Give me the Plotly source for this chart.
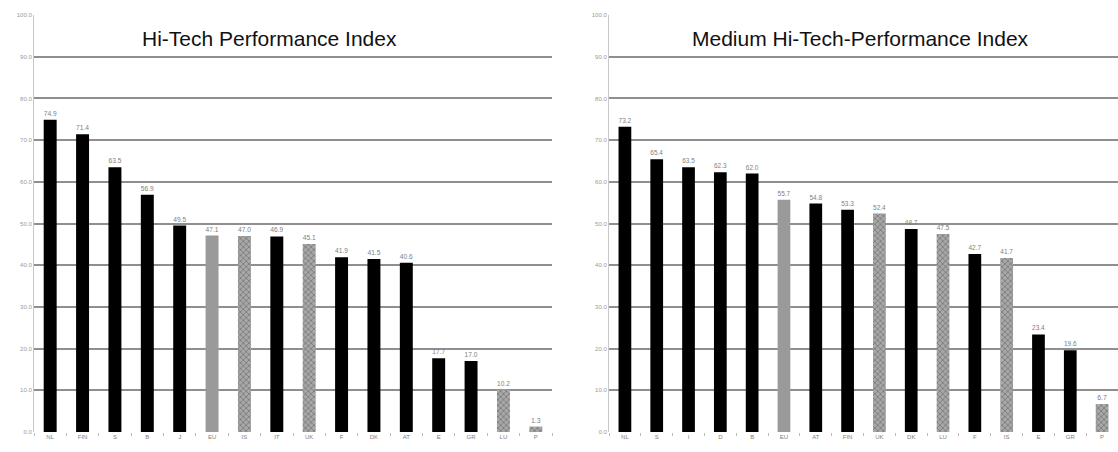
import plotly.graph_objects as go

# Hi-Tech Performance Index
hi_countries = ["NL", "FIN", "S", "B", "J", "EU", "IS", "IT", "UK", "F", "DK", "AT", "E", "GR", "LU", "P"]
hi_values = [74.9, 71.4, 63.5, 56.9, 49.5, 47.1, 47.0, 46.9, 45.1, 41.9, 41.5, 40.6, 17.7, 17.0, 10.2, 1.3]
hi_kind = ["c", "c", "c", "c", "c", "eu", "x", "c", "x", "c", "c", "c", "c", "c", "x", "x"]

# Medium Hi-Tech Performance Index
med_countries = ["NL", "S", "I", "D", "B", "EU", "AT", "FIN", "UK", "DK", "LU", "F", "IS", "E", "GR", "P"]
med_values = [73.2, 65.4, 63.5, 62.3, 62.0, 55.7, 54.8, 53.3, 52.4, 48.7, 47.5, 42.7, 41.7, 23.4, 19.6, 6.7]
med_kind = ["c", "c", "c", "c", "c", "eu", "c", "c", "x", "c", "x", "c", "x", "c", "c", "x"]

y_ticks = [0, 10, 20, 30, 40, 50, 60, 70, 80, 90, 100]

W, H = 1118, 452


def bar_style(kinds):
    colors, shapes = [], []
    for k in kinds:
        if k == "c":
            colors.append("#000000")
            shapes.append("")
        elif k == "eu":
            colors.append("#9a9a9a")
            shapes.append("")
        else:
            colors.append("#a8a8a8")
            shapes.append("x")
    return colors, shapes


fig = go.Figure()

for cats, vals, kinds, xa, ya in [
    (hi_countries, hi_values, hi_kind, "x", "y"),
    (med_countries, med_values, med_kind, "x2", "y2"),
]:
    colors, shapes = bar_style(kinds)
    fig.add_trace(go.Bar(
        x=cats, y=vals, xaxis=xa, yaxis=ya,
        width=0.4,
        marker=dict(
            color=colors,
            line=dict(width=0),
            pattern=dict(shape=shapes, fgcolor="#3a3a3a", size=4,
                         solidity=0.35, fillmode="overlay"),
        ),
        text=[f"{v:.1f}" for v in vals],
        textposition="outside",
        cliponaxis=False,
        textfont=dict(family="Arial", size=7, color="#808080"),
        showlegend=False,
    ))

y_dom = [(H - 432) / H, (H - 15) / H]
xaxis_common = dict(
    showgrid=False, showline=False, zeroline=False,
    ticks="outside", tickson="boundaries", ticklen=3, tickcolor="#bbbbbb",
    tickfont=dict(family="Arial", size=6, color="#808080"),
    automargin=False,
)
yaxis_common = dict(
    range=[0, 100], tickvals=y_ticks, tickformat=".1f",
    showgrid=True, gridcolor="#8f8f8f", gridwidth=1.6,
    showline=True, linecolor="#c8c8c8", linewidth=1,
    zeroline=False, ticks="",
    tickfont=dict(family="Arial", size=6, color="#999999"),
    automargin=False, domain=y_dom,
)

fig.update_layout(
    width=W, height=H,
    margin=dict(l=0, r=0, t=0, b=0),
    paper_bgcolor="white", plot_bgcolor="white",
    bargap=0.6,
    xaxis=dict(domain=[34 / W, 552 / W], anchor="y", **xaxis_common),
    yaxis=dict(anchor="x", **yaxis_common),
    xaxis2=dict(domain=[609 / W, 1.0], anchor="y2", **xaxis_common),
    yaxis2=dict(anchor="x2", **yaxis_common),
    annotations=[
        dict(text="Hi-Tech Performance Index", x=269 / W, y=(H - 38) / H,
             xref="paper", yref="paper", xanchor="center", yanchor="middle",
             showarrow=False,
             font=dict(family="Arial", size=21, color="#111111")),
        dict(text="Medium Hi-Tech-Performance Index", x=860 / W, y=(H - 38) / H,
             xref="paper", yref="paper", xanchor="center", yanchor="middle",
             showarrow=False,
             font=dict(family="Arial", size=21, color="#111111")),
    ],
)

fig.write_html("out.html")
